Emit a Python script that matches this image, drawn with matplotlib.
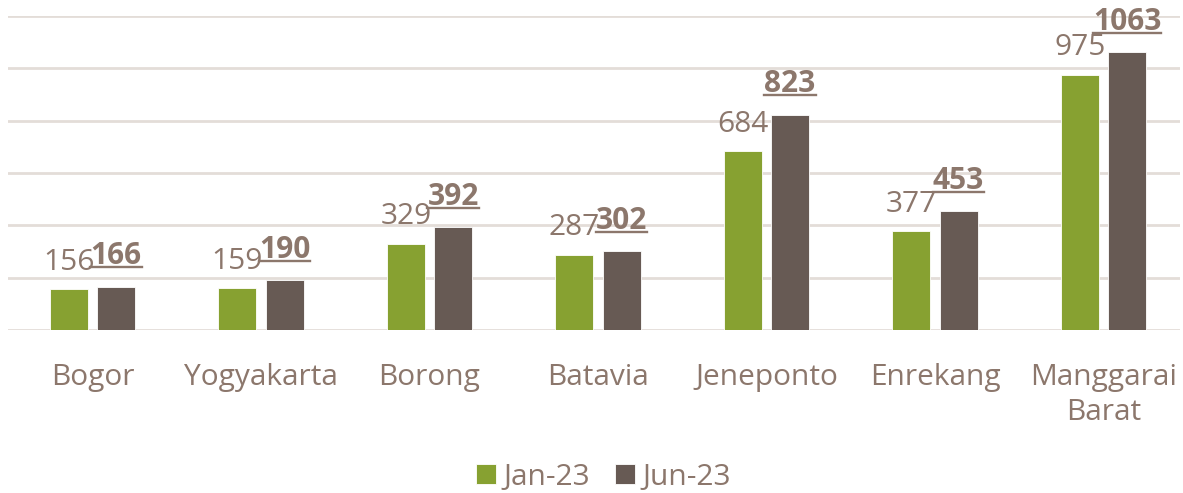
import numpy as np
import matplotlib
matplotlib.use("Agg")
import matplotlib.pyplot as plt
from matplotlib.lines import Line2D

plt.rcParams['font.family'] = ['Open Sans', 'DejaVu Sans']

categories = ["Bogor", "Yogyakarta", "Borong", "Batavia", "Jeneponto", "Enrekang", "Manggarai\nBarat"]
jan23 = [156, 159, 329, 287, 684, 377, 975]
jun23 = [166, 190, 392, 302, 823, 453, 1063]
series_names = ["Jan-23", "Jun-23"]

green = '#87A131'
brown = '#675A54'
txt = '#8C776C'
grid_c = '#E3DDD8'
fs = 21.5

fig = plt.figure(figsize=(11.83, 4.93), dpi=100)
ax = fig.add_axes([8 / 1183, 163 / 493, 1172 / 1183, 314 / 493])

x = np.arange(len(categories))
w = 0.2255
off = 0.1395
ax.bar(x - off, jan23, w, color=green, edgecolor='white', linewidth=0.6, label=series_names[0], zorder=3)
ax.bar(x + off, jun23, w, color=brown, edgecolor='white', linewidth=0.6, label=series_names[1], zorder=3)

ax.set_xlim(-0.5015, 6.454)
ax.set_ylim(0, 1200)
ax.set_yticks(np.arange(0, 1201, 200))
ax.yaxis.grid(True, color=grid_c, linewidth=2, zorder=0)
ax.set_axisbelow(True)
ax.tick_params(axis='y', left=False, labelleft=False)
ax.tick_params(axis='x', bottom=False, pad=20, labelsize=fs, labelcolor=txt)
ax.set_xticks(x)
ax.set_xticklabels(categories, linespacing=1.3)
for s in ['top', 'right', 'left', 'bottom']:
    ax.spines[s].set_visible(False)

# value labels
lab_u = []
for xi, v in zip(x, jan23):
    ax.annotate(str(v), (xi - off, v), xytext=(0, 9), textcoords='offset points',
                ha='center', va='bottom', fontsize=fs, color=txt)
for xi, v in zip(x, jun23):
    lab_u.append(ax.annotate(str(v), (xi + off, v), xytext=(0, 11), textcoords='offset points',
                             ha='center', va='bottom', fontsize=fs, color=txt, fontweight='bold'))

fig.legend(loc='center', bbox_to_anchor=(603.5 / 1183, 16 / 493), ncol=2, frameon=False,
           fontsize=fs, handlelength=0.65, handleheight=0.65, handletextpad=0.25,
           columnspacing=0.85, labelcolor=txt)

# underline the bold Jun-23 labels
fig.canvas.draw()
r = fig.canvas.get_renderer()
for t in lab_u:
    bb = t.get_window_extent(r)
    y0 = bb.y0 + 4
    fig.add_artist(Line2D([bb.x0 / fig.bbox.width, bb.x1 / fig.bbox.width],
                          [y0 / fig.bbox.height, y0 / fig.bbox.height],
                          color=txt, linewidth=1.7, transform=fig.transFigure))

fig.savefig('out.png', dpi=100)
